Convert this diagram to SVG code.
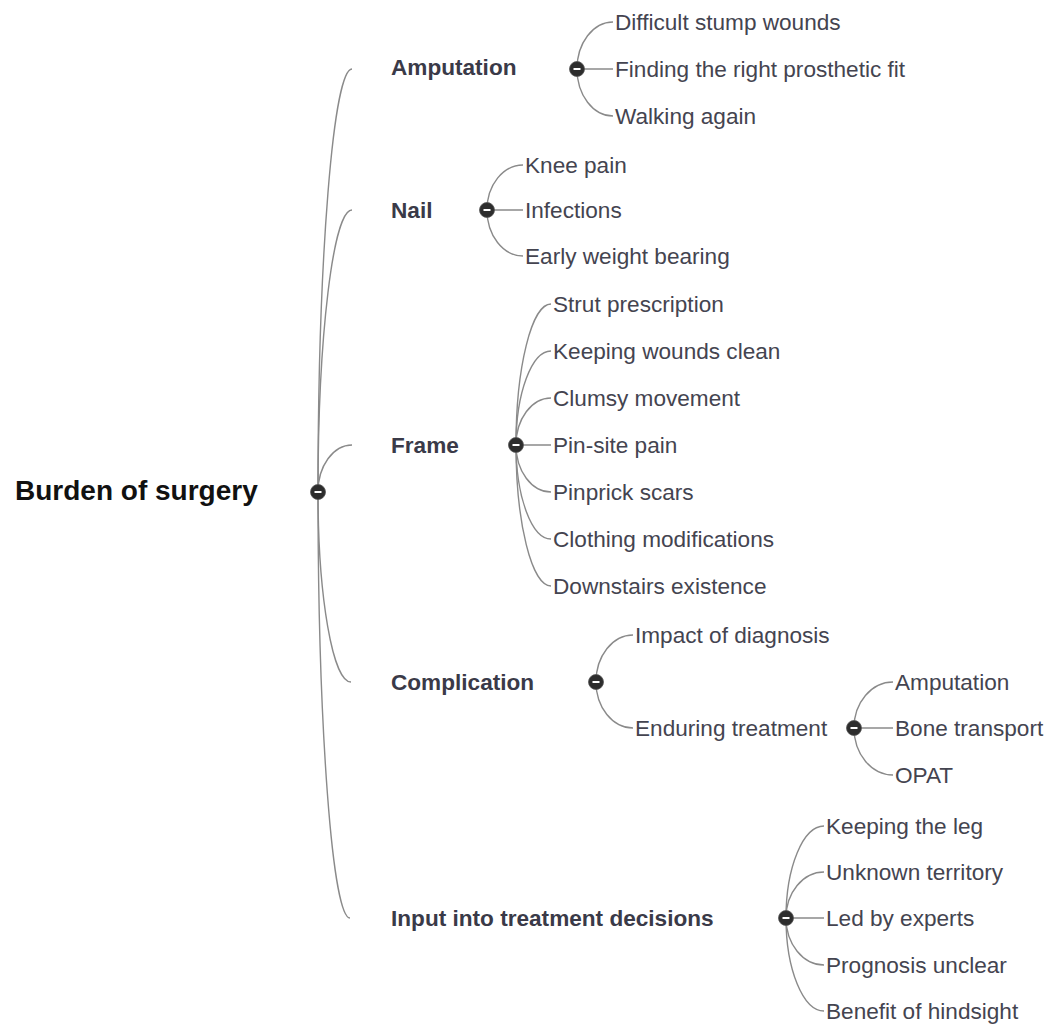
<svg xmlns="http://www.w3.org/2000/svg" width="1056" height="1025" viewBox="0 0 1056 1025">
<style>
.bg{fill:#ffffff}
.root{font-family:"Liberation Sans",Arial,sans-serif;font-size:28px;font-weight:bold;fill:#111111}
.main{font-family:"Liberation Sans",Arial,sans-serif;font-size:22.6px;font-weight:bold;fill:#3a3a48}
.sub{font-family:"Liberation Sans",Arial,sans-serif;font-size:22.6px;fill:#444450}
.conn path{fill:none;stroke:#8a8a8a;stroke-width:1.4}
.exp circle{fill:#2d2d2d;stroke:#555555;stroke-width:0.8}
.exp line{stroke:#ffffff;stroke-width:2}
</style>
<defs>
<g id="minus" class="exp"><circle cx="0" cy="0" r="7.5"/><line x1="-3.5" y1="0" x2="3.5" y2="0"/></g>
</defs>
<rect class="bg" x="0" y="0" width="1056" height="1025"/>
<g id="connectors" class="conn">
<path d="M318 492 A34 423 0 0 1 352 69"/>
<path d="M318 492 A34 282 0 0 1 352 210"/>
<path d="M318 492 A34 47 0 0 1 352 445"/>
<path d="M318 492 A33 190 0 0 0 351 682"/>
<path d="M318 492 A32 426 0 0 0 350 918"/>
<path d="M577 69 A36 47 0 0 1 613 22"/>
<path d="M577 69 L613 69"/>
<path d="M577 69 A36 47 0 0 0 613 116"/>
<path d="M487 210 A36 45 0 0 1 523 165"/>
<path d="M487 210 L523 210"/>
<path d="M487 210 A36 46 0 0 0 523 256"/>
<path d="M516 445 A35 141 0 0 1 551 304"/>
<path d="M516 445 A35 94 0 0 1 551 351"/>
<path d="M516 445 A35 47 0 0 1 551 398"/>
<path d="M516 445 L551 445"/>
<path d="M516 445 A35 47 0 0 0 551 492"/>
<path d="M516 445 A35 94 0 0 0 551 539"/>
<path d="M516 445 A35 141 0 0 0 551 586"/>
<path d="M596 682 A37 47 0 0 1 633 635"/>
<path d="M596 682 A37 46 0 0 0 633 728"/>
<path d="M854 728 A39 46 0 0 1 893 682"/>
<path d="M854 728 L893 728"/>
<path d="M854 728 A39 47 0 0 0 893 775"/>
<path d="M786 918 A38 92 0 0 1 824 826"/>
<path d="M786 918 A38 46 0 0 1 824 872"/>
<path d="M786 918 L824 918"/>
<path d="M786 918 A38 47 0 0 0 824 965"/>
<path d="M786 918 A38 93 0 0 0 824 1011"/>
</g>
<g id="node-root"><text class="root" x="15" y="500">Burden of surgery</text><use href="#minus" x="318" y="492"/></g>
<g id="node-amputation"><text class="main" x="391" y="75">Amputation</text><use href="#minus" x="577" y="69"/></g>
<g id="node-difficult"><text class="sub" x="615" y="30">Difficult stump wounds</text></g>
<g id="node-finding"><text class="sub" x="615" y="77">Finding the right prosthetic fit</text></g>
<g id="node-walking"><text class="sub" x="615" y="124">Walking again</text></g>
<g id="node-nail"><text class="main" x="391" y="218">Nail</text><use href="#minus" x="487" y="210"/></g>
<g id="node-knee"><text class="sub" x="525" y="173">Knee pain</text></g>
<g id="node-infections"><text class="sub" x="525" y="218">Infections</text></g>
<g id="node-early"><text class="sub" x="525" y="264">Early weight bearing</text></g>
<g id="node-frame"><text class="main" x="391" y="453">Frame</text><use href="#minus" x="516" y="445"/></g>
<g id="node-strut"><text class="sub" x="553" y="312">Strut prescription</text></g>
<g id="node-keeping-wounds"><text class="sub" x="553" y="359">Keeping wounds clean</text></g>
<g id="node-clumsy"><text class="sub" x="553" y="406">Clumsy movement</text></g>
<g id="node-pinsite"><text class="sub" x="553" y="453">Pin-site pain</text></g>
<g id="node-pinprick"><text class="sub" x="553" y="500">Pinprick scars</text></g>
<g id="node-clothing"><text class="sub" x="553" y="547">Clothing modifications</text></g>
<g id="node-downstairs"><text class="sub" x="553" y="594">Downstairs existence</text></g>
<g id="node-complication"><text class="main" x="391" y="690">Complication</text><use href="#minus" x="596" y="682"/></g>
<g id="node-impact"><text class="sub" x="635" y="643">Impact of diagnosis</text></g>
<g id="node-enduring"><text class="sub" x="635" y="736">Enduring treatment</text><use href="#minus" x="854" y="728"/></g>
<g id="node-amputation2"><text class="sub" x="895" y="690">Amputation</text></g>
<g id="node-bone"><text class="sub" x="895" y="736">Bone transport</text></g>
<g id="node-opat"><text class="sub" x="895" y="783">OPAT</text></g>
<g id="node-input"><text class="main" x="391" y="926">Input into treatment decisions</text><use href="#minus" x="786" y="918"/></g>
<g id="node-keeping-leg"><text class="sub" x="826" y="834">Keeping the leg</text></g>
<g id="node-unknown"><text class="sub" x="826" y="880">Unknown territory</text></g>
<g id="node-led"><text class="sub" x="826" y="926">Led by experts</text></g>
<g id="node-prognosis"><text class="sub" x="826" y="973">Prognosis unclear</text></g>
<g id="node-benefit"><text class="sub" x="826" y="1019">Benefit of hindsight</text></g>
</svg>
